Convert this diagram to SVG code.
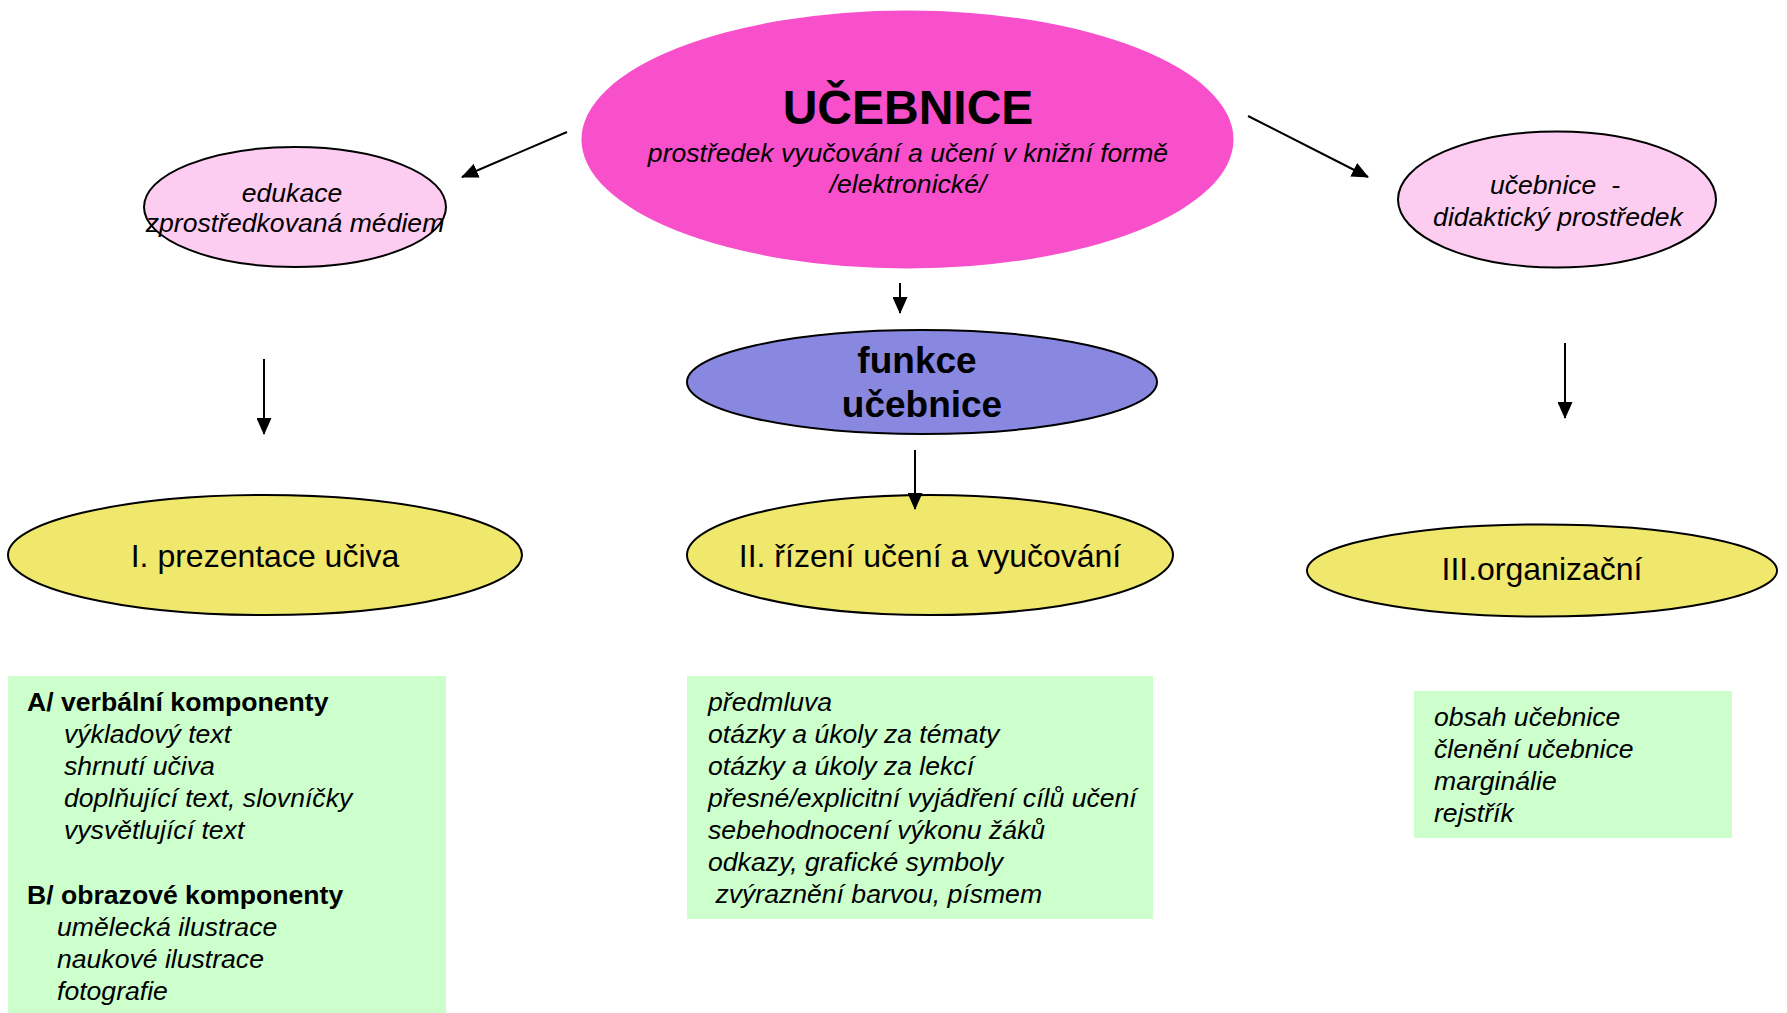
<svg xmlns="http://www.w3.org/2000/svg" width="1787" height="1013" viewBox="0 0 1787 1013">
<defs>
<style>
text{font-family:"Liberation Sans",Arial,sans-serif;fill:#000}
.it{font-style:italic;font-size:26.6px}
.c{text-anchor:middle}
.b{font-weight:bold}
.y{font-size:32px}
.st{stroke:#000;stroke-width:2}
.conn line{stroke:#000;stroke-width:2;fill:none}
</style>
<marker id="ah" markerUnits="userSpaceOnUse" markerWidth="17" markerHeight="15" refX="16" refY="7.5" orient="auto">
<path d="M0,0 L17,7.5 L0,15 Z" fill="#000"/>
</marker>
</defs>
<rect width="1787" height="1013" fill="#fff"/>

<g id="n-ucebnice">
<ellipse cx="907.5" cy="139.5" rx="326" ry="129" fill="#f84fcb"/>
<text class="c b" x="908" y="124" font-size="48">UČEBNICE</text>
<text class="c it" x="908" y="162">prostředek vyučování a učení v knižní formě</text>
<text class="c it" x="908" y="193">/elektronické/</text>
</g>

<g id="n-edukace">
<ellipse class="st" cx="295" cy="207" rx="151" ry="60" fill="#fccdf1"/>
<text class="c it" x="292" y="202">edukace</text>
<text class="c it" x="295" y="232">zprostředkovaná médiem</text>
</g>

<g id="n-didakticky">
<ellipse class="st" cx="1557" cy="199.5" rx="159" ry="68" fill="#fccdf1"/>
<text class="c it" x="1555" y="194" xml:space="preserve">učebnice  -</text>
<text class="c it" x="1558" y="226">didaktický prostředek</text>
</g>

<g id="n-funkce">
<ellipse class="st" cx="922" cy="382" rx="235" ry="52" fill="#8888e0"/>
<text class="c b" x="917" y="373" font-size="37">funkce</text>
<text class="c b" x="922" y="417" font-size="37">učebnice</text>
</g>

<g id="n-prezentace">
<ellipse class="st" cx="265" cy="555" rx="257" ry="60" fill="#f0e86c"/>
<text class="c y" x="265" y="567">I. prezentace učiva</text>
</g>

<g id="n-rizeni">
<ellipse class="st" cx="930" cy="555" rx="243" ry="60" fill="#f0e86c"/>
<text class="c y" x="930" y="567">II. řízení učení a vyučování</text>
</g>

<g id="n-organizacni">
<ellipse class="st" cx="1542" cy="570.5" rx="235" ry="46" fill="#f0e86c"/>
<text class="c y" x="1542" y="580">III.organizační</text>
</g>

<g id="n-box-a">
<rect x="8" y="676" width="438" height="337" fill="#ccffcc"/>
<text class="b" x="27" y="711" font-size="26.6">A/ verbální komponenty</text>
<text class="it" x="64" y="743">výkladový text</text>
<text class="it" x="64" y="775">shrnutí učiva</text>
<text class="it" x="64" y="807">doplňující text, slovníčky</text>
<text class="it" x="64" y="839">vysvětlující text</text>
<text class="b" x="27" y="904" font-size="26.6">B/ obrazové komponenty</text>
<text class="it" x="57" y="936">umělecká ilustrace</text>
<text class="it" x="57" y="968">naukové ilustrace</text>
<text class="it" x="57" y="1000">fotografie</text>
</g>

<g id="n-box-b">
<rect x="687" y="676" width="466" height="243" fill="#ccffcc"/>
<text class="it" x="708" y="711">předmluva</text>
<text class="it" x="708" y="743">otázky a úkoly za tématy</text>
<text class="it" x="708" y="775">otázky a úkoly za lekcí</text>
<text class="it" x="708" y="807">přesné/explicitní vyjádření cílů učení</text>
<text class="it" x="708" y="839">sebehodnocení výkonu žáků</text>
<text class="it" x="708" y="871">odkazy, grafické symboly</text>
<text class="it" x="708" y="903" xml:space="preserve"> zvýraznění barvou, písmem</text>
</g>

<g id="n-box-c">
<rect x="1414" y="691" width="318" height="147" fill="#ccffcc"/>
<text class="it" x="1434" y="726">obsah učebnice</text>
<text class="it" x="1434" y="758">členění učebnice</text>
<text class="it" x="1434" y="790">marginálie</text>
<text class="it" x="1434" y="822">rejstřík</text>
</g>

<g id="connectors" class="conn">
<line x1="567" y1="132" x2="462" y2="177" marker-end="url(#ah)"/>
<line x1="1248" y1="116" x2="1368" y2="177" marker-end="url(#ah)"/>
<line x1="900" y1="283" x2="900" y2="313" marker-end="url(#ah)"/>
<line x1="264" y1="359" x2="264" y2="434" marker-end="url(#ah)"/>
<line x1="915" y1="450" x2="915" y2="509" marker-end="url(#ah)"/>
<line x1="1565" y1="343" x2="1565" y2="418" marker-end="url(#ah)"/>
</g>
</svg>
